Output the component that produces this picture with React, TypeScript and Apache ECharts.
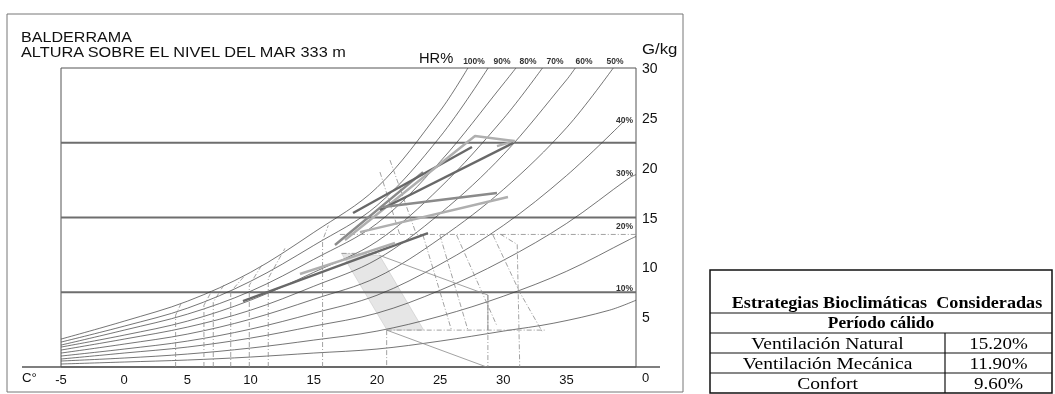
import React, { useEffect, useRef } from "react";
import * as echarts from "echarts";

// ---- Data (temperature °C, humidity ratio g/kg) ----
const xTicks = [-5, 0, 5, 10, 15, 20, 25, 30, 35];
const yTicks = [5, 10, 15, 20, 25, 30];
const gridLevels = [7.5, 15, 22.5];

const rh100 = [[-5, 2.8], [0, 4.6], [5, 6.6], [10, 9.5], [15, 13.5], [20, 18.0], [25, 25.7], [27.2, 30]];
const rh90 = [[-5, 2.5], [0, 4.1], [5, 5.9], [10, 8.6], [15, 12.2], [20, 16.2], [25, 23.1], [28.8, 30]];
const rh80 = [[-5, 2.2], [0, 3.7], [5, 5.3], [10, 7.6], [15, 10.8], [20, 14.4], [25, 20.6], [30, 28.4], [31.0, 30]];
const rh70 = [[-5, 2.0], [0, 3.2], [5, 4.6], [10, 6.7], [15, 9.5], [20, 12.6], [25, 18.0], [30, 24.9], [33.1, 30]];
const rh60 = [[-5, 1.7], [0, 2.8], [5, 4.0], [10, 5.7], [15, 8.1], [20, 10.8], [25, 15.4], [30, 21.3], [35, 28.8], [35.7, 30]];
const rh50 = [[-5, 1.4], [0, 2.3], [5, 3.3], [10, 4.8], [15, 6.8], [20, 9.0], [25, 12.9], [30, 17.8], [35, 24.0], [38.7, 30]];
const rh40 = [[-5, 1.1], [0, 1.8], [5, 2.6], [10, 3.8], [15, 5.4], [20, 7.2], [25, 10.3], [30, 14.2], [35, 19.2], [39.5, 24.6]];
const rh30 = [[-5, 0.8], [0, 1.4], [5, 2.0], [10, 2.9], [15, 4.1], [20, 5.4], [25, 7.7], [30, 10.7], [35, 14.4], [40, 19.0], [40.5, 19.3]];
const rh20 = [[-5, 0.6], [0, 0.9], [5, 1.3], [10, 1.9], [15, 2.7], [20, 3.6], [25, 5.1], [30, 7.1], [35, 9.6], [40, 12.8], [40.5, 13.1]];
const rh10 = [[-5, 0.3], [0, 0.5], [5, 0.7], [10, 1.0], [15, 1.4], [20, 1.8], [25, 2.6], [30, 3.6], [34, 4.4], [38.4, 5.7], [40.5, 6.7]];
const rhCurves = [rh100, rh90, rh80, rh70, rh60, rh50, rh40, rh30, rh20, rh10];

const topRhLabels = ["100%", "90%", "80%", "70%", "60%", "50%"];
const sideRhLabels = ["40%", "30%", "20%", "10%"];

// construction (strategy) lines, dash-dot
const heatLines = [
  [[4.07, 0], [4.07, 5.2], [4.55, 6.5]],
  [[6.31, 0], [6.31, 6.2], [6.92, 7.6]],
  [[7.05, 0], [7.05, 6.5], [7.97, 8.4]],
  [[8.43, 0], [8.43, 7.55], [9.56, 9.2]],
  [[9.9, 0], [9.9, 8.2], [10.88, 10.2]],
  [[11.4, 0], [11.4, 8.9], [12.72, 11.9]],
  [[15.7, 0], [15.7, 12.7], [16.15, 14.2]],
];
const zoneDashLines = [
  [[17.07, 13.3], [29.8, 13.3], [31.1, 12.3], [31.3, 0]],
  [[29.8, 13.3], [40.5, 13.3]],
  [[20.77, 3.7], [20.77, 0]],
  [[20.77, 3.7], [33.3, 3.7]],
  [[28.78, 7.22], [28.78, 0]],
  [[17.2, 11.4], [20.2, 11.4]],
  [[23.64, 13.24], [25.9, 3.7]],
  [[24.98, 13.24], [27.2, 3.7]],
  [[26.3, 13.24], [29.47, 4.2]],
  [[29.18, 13.24], [31.3, 7.5], [33.1, 3.5]],
  [[20.24, 19.56], [21.82, 13.24]],
  [[21.03, 20.76], [23.14, 13.24]],
];
const zoneSolidLines = [
  [[20.77, 3.7], [28.68, 0]],
  [[20.2, 11.2], [28.78, 7.22], [28.78, 3.7]],
];
const comfortZone = [[17.2, 11.4], [20.2, 11.2], [23.7, 3.7], [20.8, 3.7]];

// monthly climate lines (min temp/max hum -> max temp/min hum)
const monthLines = [
  { pts: [[9.4, 6.62], [24.04, 13.44]], tone: "dark" },
  { pts: [[13.91, 9.33], [21.43, 12.44]], tone: "light" },
  { pts: [[16.68, 12.24], [23.65, 19.56]], tone: "mid" },
  { pts: [[18.11, 15.45], [27.52, 22.07]], tone: "dark" },
  { pts: [[17.47, 12.74], [27.76, 23.18], [30.9, 22.67], [29.5, 22.17]], tone: "light" },
  { pts: [[20.24, 15.75], [30.77, 22.47]], tone: "dark" },
  { pts: [[20.48, 16.05], [29.5, 17.46]], tone: "mid" },
  { pts: [[18.66, 13.54], [30.37, 17.06]], tone: "light" },
];

const tableHeader = "Estrategias Bioclimáticas  Consideradas";
const tablePeriod = "Período cálido";
const tableRows = ["Ventilación Natural", "Ventilación Mecánica", "Confort"];
const tableValues = ["15.20%", "11.90%", "9.60%"];

const toneColor: Record<string, string> = { dark: "#686868", mid: "#8a8a8a", light: "#afafaf" };

export default function App() {
  const ref = useRef<HTMLDivElement>(null);
  useEffect(() => {
    document.body.style.margin = "0";
    const chart = echarts.init(ref.current!, null, { renderer: "svg" });
    const SANS = "Liberation Sans, Arial, sans-serif";
    const SERIF = "Liberation Serif, Times New Roman, serif";
    const series: any[] = [];

    series.push({
      type: "custom",
      silent: true,
      z: 1,
      renderItem: (params: any, api: any) => {
        if (params.dataIndex !== 0) return null;
        const points = comfortZone.map((p) => api.coord(p));
        return { type: "polygon", shape: { points }, style: { fill: "#e6e6e6", stroke: "#c8c8c8", lineWidth: 0.6 } };
      },
      data: [[0, 0]],
    });

    gridLevels.forEach((g) =>
      series.push({
        type: "line", data: [[-5, g], [40.5, g]], symbol: "none", silent: true, z: 2,
        lineStyle: { color: "#6e6e6e", width: 2 },
      })
    );

    rhCurves.forEach((c) =>
      series.push({
        type: "line", data: c, symbol: "none", smooth: 0.35, silent: true, z: 3,
        lineStyle: { color: "#3a3a3a", width: 0.7 },
      })
    );

    [...heatLines, ...zoneDashLines].forEach((l) =>
      series.push({
        type: "line", data: l, symbol: "none", silent: true, z: 3,
        lineStyle: { color: "#8a8a8a", width: 0.8, type: [5, 2, 1, 2] },
      })
    );
    zoneSolidLines.forEach((l) =>
      series.push({
        type: "line", data: l, symbol: "none", silent: true, z: 3,
        lineStyle: { color: "#8a8a8a", width: 0.8 },
      })
    );

    monthLines.forEach((m) =>
      series.push({
        type: "line", data: m.pts, symbol: "none", silent: true, z: 5,
        lineStyle: { color: toneColor[m.tone], width: 2.4 },
      })
    );

    const txt = (x: number, y: number, text: string, font: string, align: string, sx = 1, fill = "#111") => ({
      type: "text", x, y, scaleX: sx, silent: true,
      style: { text, font, fill, align, verticalAlign: "middle" },
    });

    const graphic: any[] = [];
    graphic.push({ type: "rect", shape: { x: 7, y: 14, width: 676, height: 378 }, style: { fill: "none", stroke: "#777", lineWidth: 1 }, silent: true });
    graphic.push({ type: "line", shape: { x1: 22, y1: 367, x2: 660, y2: 367 }, style: { stroke: "#555", lineWidth: 1.5 }, silent: true });
    graphic.push(txt(21, 37, "BALDERRAMA", `14px ${SANS}`, "left", 1.15));
    graphic.push(txt(21, 52, "ALTURA SOBRE EL NIVEL DEL MAR 333 m", `14px ${SANS}`, "left", 1.165));
    graphic.push(txt(419, 58, "HR%", `14px ${SANS}`, "left", 1.05));
    const topX = [474, 502, 528, 555, 584, 615];
    topRhLabels.forEach((t, i) => graphic.push(txt(topX[i], 61, t, `bold 8.5px ${SANS}`, "center", 1, "#333")));
    const sideY = [120, 173, 226, 288];
    sideRhLabels.forEach((t, i) => graphic.push(txt(633, sideY[i], t, `bold 8.5px ${SANS}`, "right", 1, "#333")));
    graphic.push(txt(642, 49, "G/kg", `15px ${SANS}`, "left", 1.12));
    graphic.push(txt(642, 377, "0", `13px ${SANS}`, "left"));
    graphic.push(txt(22, 378, "C°", `12px ${SANS}`, "left", 1.1));

    // table
    const tL = 710, tR = 1052, tC = 945, tT = 270;
    const rowLines = [313, 333, 353, 373];
    const ink = "#111";
    graphic.push({ type: "rect", shape: { x: tL, y: tT, width: tR - tL, height: 393 - tT }, style: { fill: "#fff", stroke: ink, lineWidth: 1.5 }, silent: true });
    rowLines.forEach((y) =>
      graphic.push({ type: "line", shape: { x1: tL, y1: y, x2: tR, y2: y }, style: { stroke: ink, lineWidth: 1.2 }, silent: true })
    );
    graphic.push({ type: "line", shape: { x1: tC, y1: 333, x2: tC, y2: 393 }, style: { stroke: ink, lineWidth: 1.2 }, silent: true });
    graphic.push(txt((tL + tR) / 2 + 6, 302, tableHeader, `bold 17px ${SERIF}`, "center", 1.07, "#000"));
    graphic.push(txt((tL + tR) / 2, 323, tablePeriod, `bold 16.5px ${SERIF}`, "center", 1.05, "#000"));
    tableRows.forEach((r, i) => {
      const cy = 343 + i * 20;
      graphic.push(txt((tL + tC) / 2, cy, r, `17px ${SERIF}`, "center", 1.15, "#000"));
      graphic.push(txt((tC + tR) / 2, cy, tableValues[i], `17px ${SERIF}`, "center", 1.12, "#000"));
    });

    chart.setOption({
      animation: false,
      grid: { left: 61, top: 68, width: 575, height: 299, show: true, borderColor: "#555", borderWidth: 1, backgroundColor: "transparent" },
      xAxis: {
        type: "value", min: -5, max: 40.5, interval: 5,
        axisLine: { show: false }, axisTick: { show: false }, splitLine: { show: false },
        axisLabel: {
          margin: 6, fontSize: 13, color: "#111", fontFamily: SANS, showMaxLabel: false,
          formatter: (v: number) => (xTicks.includes(v) ? String(v) : ""),
        },
      },
      yAxis: {
        type: "value", position: "right", min: 0, max: 30, interval: 5,
        axisLine: { show: false }, axisTick: { show: false }, splitLine: { show: false },
        axisLabel: {
          margin: 6, fontSize: 14, color: "#111", fontFamily: SANS, padding: [0, 0, 5, 0],
          formatter: (v: number) => (yTicks.includes(v) ? String(v) : ""),
        },
      },
      series,
      graphic,
    });
    return () => chart.dispose();
  }, []);
  return <div ref={ref} style={{ position: "fixed", left: 0, top: 0, width: 1055, height: 394 }} />;
}
